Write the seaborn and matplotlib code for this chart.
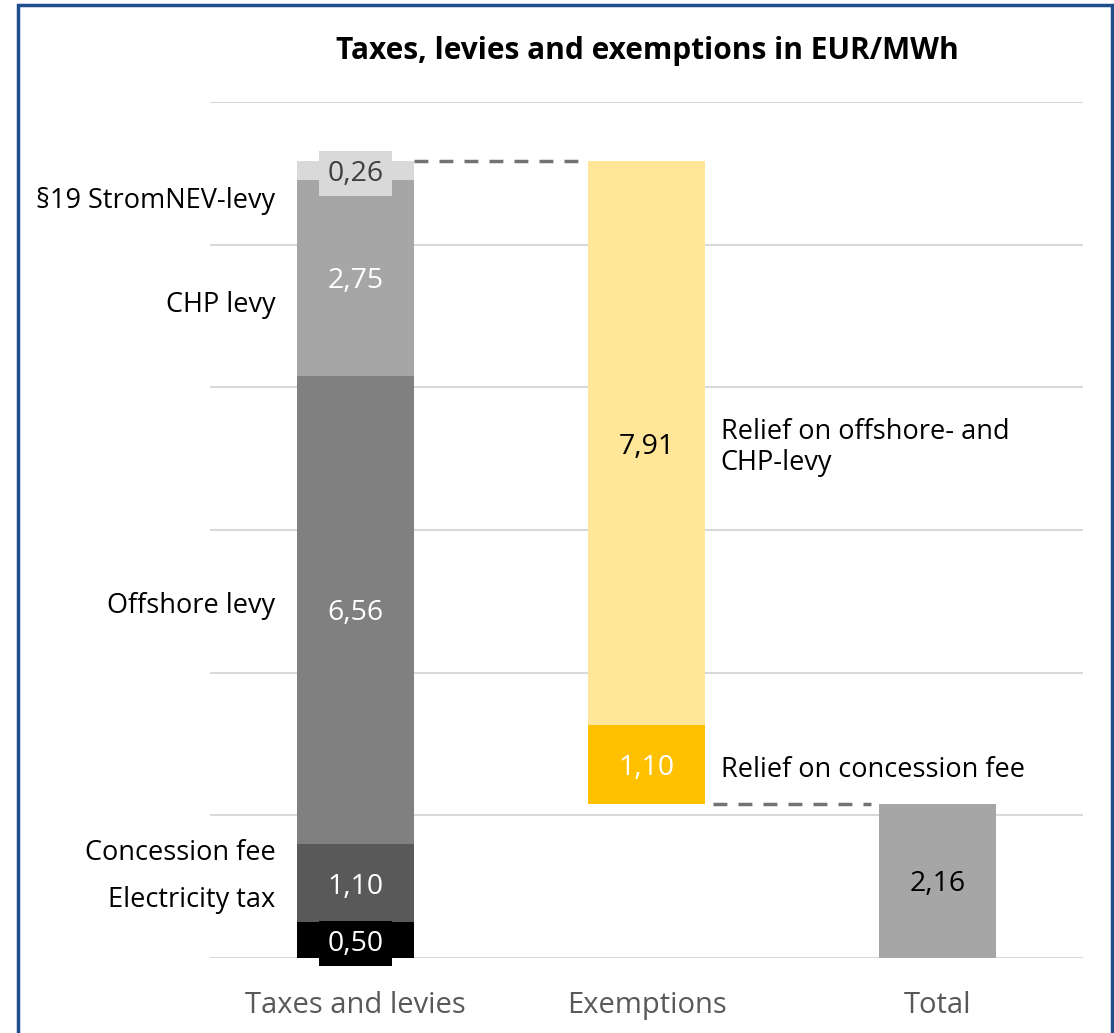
import pandas as pd
import matplotlib.pyplot as plt
import seaborn as sns
from matplotlib.patches import Rectangle

# data
categories = ["Taxes and levies", "Exemptions", "Total"]
tax_names = ["Electricity tax", "Concession fee", "Offshore levy", "CHP levy", "§19 StromNEV-levy"]
tax_values = [0.50, 1.10, 6.56, 2.75, 0.26]
exemption_names = ["Relief on concession fee", "Relief on offshore- and\nCHP-levy"]
exemption_values = [1.10, 7.91]
total_value = 2.16

tax_colors = ["#000000", "#595959", "#808080", "#a6a6a6", "#d9d9d9"]
tax_text = ["white", "white", "white", "white", "#404040"]
exe_colors = ["#ffc000", "#ffe699"]
exe_text = ["white", "black"]

sns.set_theme(style="white")
plt.rcParams['font.family'] = ['Open Sans', 'DejaVu Sans']

fig = plt.figure(figsize=(11.14, 10.33), dpi=100)
ax = fig.add_axes([0.1885, 0.0726, 0.9722 - 0.1885, 0.9013 - 0.0726])

# build segments table
rows = []
b = 0.0
for n, v, c, t in zip(tax_names, tax_values, tax_colors, tax_text):
    rows.append(dict(cat=categories[0], name=n, value=v, bottom=b, color=c, tcol=t))
    b += v
top_total = b
b = total_value
for n, v, c, t in zip(exemption_names, exemption_values, exe_colors, exe_text):
    rows.append(dict(cat=categories[1], name=n, value=v, bottom=b, color=c, tcol=t))
    b += v
rows.append(dict(cat=categories[2], name="Total", value=total_value, bottom=0.0,
                 color="#a6a6a6", tcol="black"))
df = pd.DataFrame(rows)

for y in range(0, 13, 2):
    ax.axhline(y, color="#d9d9d9", lw=1.5, zorder=0)

for _, r in df.iterrows():
    sns.barplot(x=[r["cat"]], y=[r["value"]], order=categories, bottom=r["bottom"],
                color=r["color"], saturation=1, width=0.4, errorbar=None, ax=ax,
                linewidth=0, zorder=2)

# value labels
for _, r in df.iterrows():
    xi = categories.index(r["cat"])
    yc = r["bottom"] + r["value"] / 2
    txt = f"{r['value']:.2f}".replace(".", ",")
    kw = {}
    if r["value"] < 0.6:
        kw["bbox"] = dict(boxstyle="square,pad=0.3", fc=r["color"], ec="none")
    ax.text(xi, yc, txt, ha="center", va="center_baseline", fontsize=20.5, color=r["tcol"],
            zorder=4, **kw)

# left annotations of the tax bar
left_labels = {"§19 StromNEV-levy": 10.61, "CHP levy": 9.15, "Offshore levy": 4.93,
               "Concession fee": 1.47, "Electricity tax": 0.81}
for name, yv in left_labels.items():
    ax.text(-0.275, yv, name, ha="right", va="center", fontsize=19.5, color="black")

# right annotations of the exemption bar
ax.text(1.255, 7.16, exemption_names[1], ha="left", va="center", fontsize=19.5,
        color="black", linespacing=1.15)
ax.text(1.255, 2.63, exemption_names[0], ha="left", va="center", fontsize=19.5,
        color="black")

# connector lines
ax.plot([0.2, 0.785], [top_total, top_total], ls=(0, (4, 3.2)), color="#737373", lw=2.5, zorder=3)
ax.plot([1.23, 1.77], [total_value, total_value], ls=(0, (4, 3.2)), color="#737373", lw=2.5, zorder=3)

ax.set_xlim(-0.5, 2.5)
ax.set_ylim(0, 12)
ax.set_yticks([])
ax.set_xlabel("")
ax.set_ylabel("")
ax.tick_params(axis="x", length=0, pad=24, labelsize=21, labelcolor="#595959")
sns.despine(ax=ax, left=True, bottom=True)

fig.text(0.581, 0.951, "Taxes, levies and exemptions in EUR/MWh", ha="center", va="center",
         fontsize=21.5, fontweight="bold", color="black")

fig.patches.append(Rectangle((18 / 1114, -0.05), (1112 - 18) / 1114, 0.995 + 0.05,
                             transform=fig.transFigure, fill=False, ec="#1f4e8c", lw=2.5))

fig.savefig("out.png", dpi=100)
